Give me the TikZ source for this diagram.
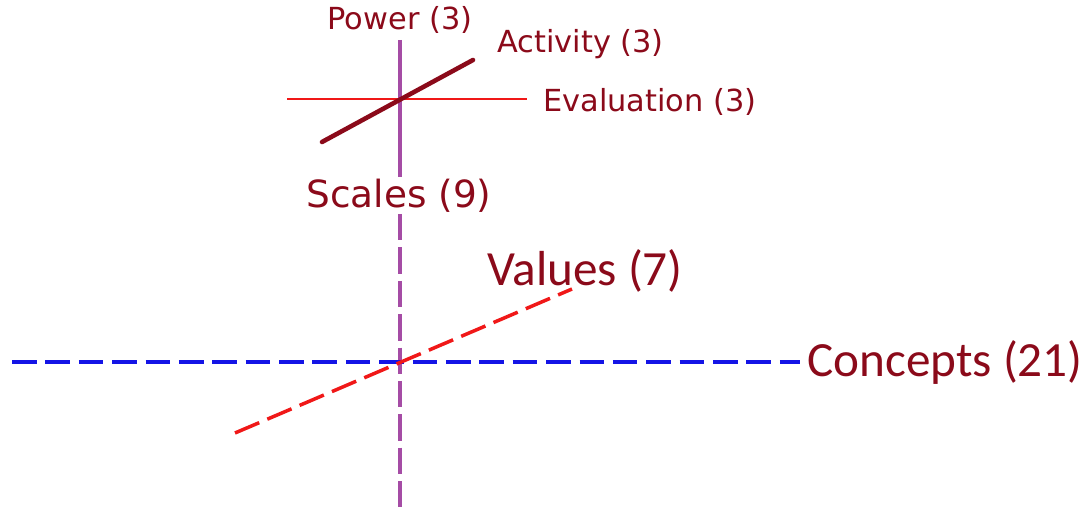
\documentclass[tikz,border=0pt]{standalone}
\usepackage{fontspec}
\setmainfont{DejaVu Sans}
\newfontfamily\narrowfont{Carlito}
\usetikzlibrary{positioning}

\definecolor{labelred}{HTML}{8B0A1A}
\definecolor{axispurple}{HTML}{A54CA5}
\definecolor{axisred}{HTML}{F01818}
\definecolor{axisblue}{HTML}{1414E6}
\definecolor{activityred}{HTML}{8B0A1A}

\tikzset{
  axislabel/.style={text=labelred, inner sep=0pt, font=\fontsize{17.3}{20}\selectfont},
  biglabel/.style={text=labelred, inner sep=0pt, font=\narrowfont\fontsize{28}{32}\selectfont},
  midlabel/.style={text=labelred, inner sep=0pt, font=\fontsize{21.3}{25}\selectfont}
}

\begin{document}
\begin{tikzpicture}[x=0.02cm, y=-0.02cm]
        \useasboundingbox (0,0) rectangle (1089,513);

        % Draw end points
        \coordinate (powtop) at (400,40);
        \coordinate (powbot) at (400,177);
        \coordinate (evalleft) at (287,99);
        \coordinate (evalright) at (527,99);
        \coordinate (actlow) at (322,142);
        \coordinate (acthigh) at (473,60);
        \coordinate (scaletop) at (400,214);
        \coordinate (scalebot) at (400,512);
        \coordinate (concleft) at (12,362);
        \coordinate (concright) at (800,362);
        \coordinate (vallow) at (235,433);
        \coordinate (valhigh) at (572,289);

        % Draw labels
        \node[axislabel] (power) at (400,20) {Power (3)};
        \node[axislabel, anchor=west] (activity) at (497,44) {Activity (3)};
        \node[axislabel, anchor=west] (evaluation) at (543,102) {Evaluation (3)};
        \node[midlabel] (scales) at (399,196) {Scales (9)};
        \node[biglabel, anchor=west] (values) at (487,271) {Values (7)};
        \node[biglabel, anchor=west] (concepts) at (807,362) {Concepts (21)};

        % Draw scale axes
        \draw[axispurple, line width=2.6pt] (powtop) -- (powbot);
        \draw[axisred, line width=1.6pt] (evalleft) -- (evalright);
        \draw[activityred, line width=2.6pt, line cap=round] (actlow) -- (acthigh);

        % Draw main axes
        \draw[axispurple, line width=2.2pt, dash pattern=on 15pt off 4pt] (scaletop) -- (scalebot);
        \draw[axisblue, line width=2.3pt, dash pattern=on 14pt off 5pt] (concleft) -- (concright);
        \draw[axisred, line width=2pt, dash pattern=on 15pt off 5pt] (vallow) -- (valhigh);
    \end{tikzpicture}
\end{document}
